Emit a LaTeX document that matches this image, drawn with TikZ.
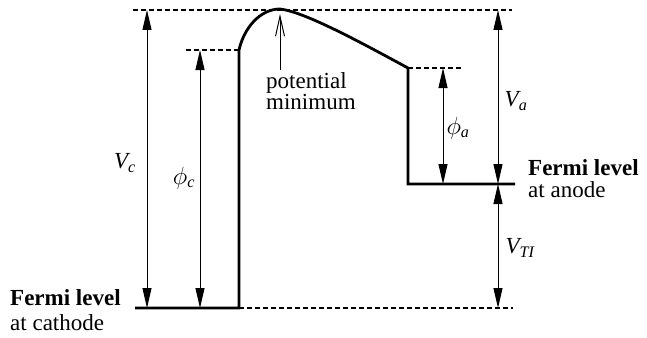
\documentclass[tikz,border=0pt]{standalone}
\usepackage{amsmath}
\usepackage{fontspec}
\setmainfont{Liberation Serif}
\usepackage{tikz}
\usetikzlibrary{arrows.meta,positioning,calc}

\tikzset{
  dimline/.style={{Triangle[length=20pt,width=9pt]}-{Triangle[length=20pt,width=9pt]},line width=1pt},
  level/.style={line width=2.8pt},
  guideline/.style={line width=1.3pt,dash pattern=on 5pt off 3pt},
  lbl/.style={font=\fontsize{23}{25}\selectfont,inner sep=0pt}
}

\begin{document}
\begin{tikzpicture}[x=1pt,y=-1pt]
  \useasboundingbox (0,0) rectangle (647,337);
  \coordinate (Cl) at (135,308);
  \coordinate (Cw) at (239,308);
  \coordinate (Ct) at (239,50);
  \coordinate (Top) at (280,9);
  \coordinate (At) at (408,68);
  \coordinate (Ab) at (408,184);
  \coordinate (Ar) at (515,184);
  % potential profile
  \draw[level,line join=miter] (Cl) -- (Cw) -- (Ct)
    .. controls (244,28) and (260,9) .. (Top)
    .. controls (305,12) and (360,42) .. (At) -- (Ab) -- (Ar);
  \draw[guideline] (133,10) -- (512,10);
  \draw[guideline] (186,50) -- (Ct);
  \draw[guideline] (At) -- (462,68);
  \draw[guideline] (Cw) -- (513,308);
  \coordinate (VcT) at (147,10);
  \coordinate (VcB) at (147,308);
  \coordinate (PcT) at (200,50);
  \coordinate (PcB) at (200,308);
  \coordinate (PaT) at (443,68);
  \coordinate (PaB) at (443,184);
  \coordinate (VaT) at (498,10);
  \coordinate (VaB) at (498,184);
  \coordinate (VtB) at (498,308);
  \draw[dimline] (VcT) -- (VcB);
  \draw[dimline] (PcT) -- (PcB);
  \draw[dimline] (PaT) -- (PaB);
  \draw[dimline] (VaT) -- (VaB);
  \draw[dimline] (VaB) -- (VtB);
  \node[lbl] (Vc) at (125,163) {$\textit{V}_{\textit{c}}$};
  \node[lbl] (phic) at (184,178) {$\phi_{\textit{c}}$};
  \node[lbl] (phia) at (458,128) {$\phi_{\textit{a}}$};
  \node[lbl] (Va) at (516,101) {$\textit{V}_{\textit{a}}$};
  \node[lbl] (VTI) at (520,248) {$\textit{V}_{\textit{TI}}$};
  % potential minimum
  \coordinate (Pm) at (280,14);
  \node[lbl,font=\fontsize{23}{20}\selectfont,align=left,anchor=north west] (potmin) at (266,72) {potential\\minimum};
  \draw[line width=1pt,-{Straight Barb[length=20pt,width=9pt]}] (280,70) -- (Pm);
  % Fermi levels
  \node[lbl,anchor=base west] (fermiA) at (528,175) {\textbf{Fermi level}};
  \node[lbl,anchor=base west] (atA) at (528,197) {at anode};
  \node[lbl,anchor=base west] (fermiC) at (10,305) {\textbf{Fermi level}};
  \node[lbl,anchor=base west] (atC) at (10,330) {at cathode};
\end{tikzpicture}
\end{document}
